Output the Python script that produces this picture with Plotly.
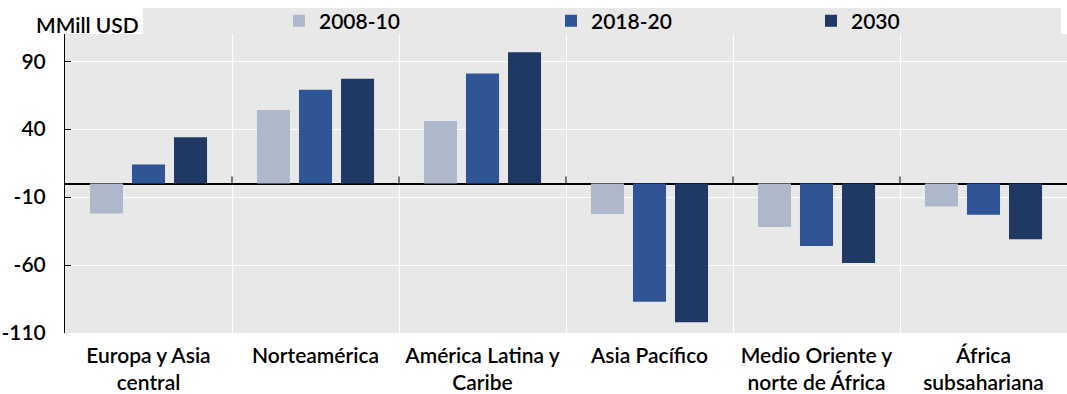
import plotly.graph_objects as go

categories = ["Europa y Asia<br>central", "Norteamérica", "América Latina y<br>Caribe",
              "Asia Pacífico", "Medio Oriente y<br>norte de África", "África<br>subsahariana"]
series_names = ["2008-10", "2018-20", "2030"]
v_2008_10 = [-22, 54, 46, -22.5, -32, -17]
v_2018_20 = [14, 69, 81, -87, -46, -23]
v_2030 = [34, 77, 96.5, -102, -58.5, -41]
colors = ["#adb9ca", "#2f5597", "#203864"]
y_ticks = [90, 40, -10, -60, -110]
y_title = "MMill USD"

FONT = "Lato"
BG = "#e8e8e8"
FS = 21

L, R, T, B = 65, 0, 34, 61
W, H = 1067, 394
pw, ph = W - L - R, H - T - B

legend_ids = ["legend", "legend2", "legend3"]
legend_text_px = [322, 594, 854]

fig = go.Figure()
for name, vals, col, lid in zip(series_names, [v_2008_10, v_2018_20, v_2030], colors, legend_ids):
    fig.add_trace(go.Bar(x=categories, y=vals, name=name, legend=lid,
                         marker=dict(color=col, line=dict(width=0))))

# boundary tick marks on the zero line
for i in range(1, len(categories)):
    fig.add_shape(type="line", xref="x", yref="y", x0=i - 0.5, x1=i - 0.5,
                  ysizemode="pixel", yanchor=0, y0=0, y1=7,
                  line=dict(color="black", width=1), layer="above")

# grey band behind legend
fig.add_shape(type="rect", xref="paper", yref="paper",
              x0=(143 - L) / pw, x1=(1061 - L) / pw, y0=1, y1=1 + (T - 8) / ph,
              fillcolor=BG, line=dict(width=0), layer="below")

fig.add_annotation(text=y_title, xref="paper", yref="paper", x=0, y=1,
                   xanchor="left", yanchor="bottom", xshift=-31, yshift=-5, showarrow=False,
                   font=dict(family=FONT, size=FS, color="black", weight=600))

legend_common = dict(orientation="h", xanchor="left", yanchor="middle",
                     y=1 + (T - 21) / ph, bgcolor="rgba(0,0,0,0)",
                     font=dict(family=FONT, size=FS, color="black", weight=600))
legends = {}
for lid, tx in zip(legend_ids, legend_text_px):
    legends[lid] = dict(x=(tx - 43 - L) / pw, **legend_common)

fig.update_layout(
    width=W, height=H,
    margin=dict(l=L, r=R, t=T, b=B),
    paper_bgcolor="white", plot_bgcolor=BG,
    barmode="group", bargap=0.245, bargroupgap=0.214,
    font=dict(family=FONT, size=FS, color="black"),
    xaxis=dict(type="category", tickson="boundaries", showgrid=True, gridcolor="white", gridwidth=1,
               ticks="", showline=False, ticklabelstandoff=8,
               tickfont=dict(family=FONT, size=FS, color="black", weight=600)),
    yaxis=dict(range=[-110, 110], tickvals=y_ticks, ticktext=[str(t) for t in y_ticks],
               showgrid=True, gridcolor="white", gridwidth=1,
               zeroline=True, zerolinecolor="black", zerolinewidth=1.5,
               showline=True, linecolor="black", linewidth=1,
               ticks="inside", ticklen=6, tickcolor="black", ticklabelstandoff=14,
               tickfont=dict(family=FONT, size=FS, color="black", weight=600)),
    showlegend=True,
    **legends,
)

fig.write_html("out.html", config={"displayModeBar": False},
               post_script="document.body.style.margin='0';")
